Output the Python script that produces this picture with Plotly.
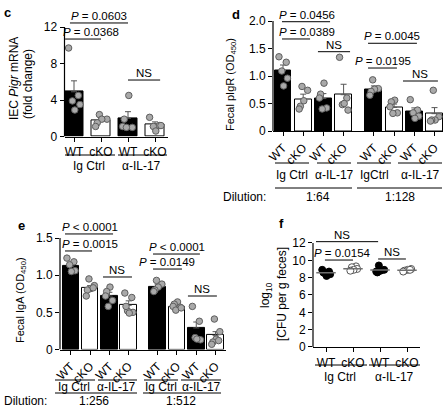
import plotly.graph_objects as go

W, H = 443, 413
FONT = "Liberation Sans, Arial, Helvetica, sans-serif"

# ------------------------------------------------------------------ data
genotypes = ["WT", "cKO", "WT", "cKO"]
genotypes8 = genotypes + genotypes
treat_labels = ["Ig Ctrl", "α-IL-17"]

# panel c : IEC Pigr mRNA (fold change)
c_mean = [4.9, 1.78, 2.0, 1.3]
c_sem = [1.2, 0.22, 0.72, 0.3]
c_points = [
    [9.7, 4.5, 3.9, 3.5, 2.9],
    [2.4, 1.9, 1.9, 1.5, 1.1],
    [4.5, 1.9, 1.1, 1.0, 1.0],
    [2.1, 1.2, 1.1, 1.2, 0.6],
]

# panel d : fecal pIgR (OD450), dilution 1:64 then 1:128
d_mean = [1.10, 0.58, 0.59, 0.66, 0.76, 0.43, 0.35, 0.315]
d_sem = [0.10, 0.09, 0.09, 0.19, 0.06, 0.06, 0.07, 0.11]
d_points = [
    [1.35, 1.25, 1.09, 0.96, 0.82],
    [0.81, 0.74, 0.55, 0.45, 0.40],
    [0.87, 0.67, 0.60, 0.42, 0.40],
    [1.34, 0.60, 0.48, 0.38, 0.50],
    [0.93, 0.77, 0.76, 0.72, 0.65],
    [0.56, 0.53, 0.44, 0.33, 0.32],
    [0.57, 0.38, 0.33, 0.27, 0.23],
    [0.74, 0.26, 0.20, 0.20, 0.18],
]

# panel e : fecal IgA (OD450), dilution 1:256 then 1:512
e_mean = [1.12, 0.83, 0.72, 0.595, 0.84, 0.58, 0.29, 0.19]
e_sem = [0.05, 0.03, 0.05, 0.06, 0.03, 0.02, 0.08, 0.05]
e_points = [
    [1.23, 1.18, 1.14, 1.06, 1.05],
    [0.95, 0.86, 0.82, 0.80, 0.72, 0.83],
    [0.84, 0.78, 0.72, 0.66, 0.58],
    [0.76, 0.70, 0.52, 0.50, 0.49, 0.58],
    [0.93, 0.88, 0.84, 0.80, 0.78],
    [0.64, 0.61, 0.58, 0.57, 0.53, 0.56],
    [0.58, 0.38, 0.16, 0.13, 0.14],
    [0.41, 0.24, 0.14, 0.10, 0.07, 0.12],
]

# panel f : log10 CFU per g feces
f_mean = [8.55, 9.02, 8.88, 8.86]
f_points = [
    [8.9, 8.7, 8.5, 8.4, 8.2, 8.6],
    [9.3, 9.2, 9.0, 8.9, 8.8],
    [9.4, 8.9, 8.8, 8.6, 8.7],
    [9.0, 8.9, 8.8, 8.7, 8.9],
]

# y tick labels
c_yticks = [0, 4, 8, 12]
d_yticks = [0, 0.5, 1.0, 1.5, 2.0]
d_yticktext = ["0", "0.5", "1.0", "1.5", "2.0"]
e_yticks = [0, 0.5, 1.0, 1.5]
e_yticktext = ["0", "0.5", "1.0", "1.5"]
f_yticks = [0, 2, 4, 6, 8, 10, 12]

# significance brackets: (x_from, x_to, height, label, label_x)
c_sig = [(-0.15, 2.0, 12.44, "<i>P</i> = 0.0603", 0.93),
         (-0.33, 1.0, 10.68, "<i>P</i> = 0.0368", 0.62),
         (2.0, 3.19, 6.19, "NS", 2.6)]
d_sig = [(-0.05, 2.33, 1.987, "<i>P</i> = 0.0456", 1.19),
         (-0.05, 1.34, 1.673, "<i>P</i> = 0.0389", 1.19),
         (1.73, 3.32, 1.442, "NS", 2.52),
         (4.21, 6.63, 1.595, "<i>P</i> = 0.0045", 5.40),
         (4.21, 5.64, 1.145, "<i>P</i> = 0.0195", 4.93),
         (5.94, 7.67, 0.909, "NS", 6.78)]
e_sig = [(-0.3, 2.19, 1.555, "<i>P</i> &lt; 0.0001", 0.99),
         (-0.3, 1.10, 1.326, "<i>P</i> = 0.0015", 0.99),
         (1.67, 3.17, 0.976, "NS", 2.39),
         (4.26, 6.69, 1.285, "<i>P</i> &lt; 0.0001", 5.48),
         (4.26, 5.76, 1.083, "<i>P</i> = 0.0149", 5.01),
         (6.07, 7.57, 0.720, "NS", 6.80)]
f_sig = [(-0.37, 1.93, 12.15, "NS", 0.59),
         (-0.04, 1.0, 10.03, "<i>P</i> = 0.0154", 0.61),
         (1.93, 2.96, 10.15, "NS", 2.44)]

# ------------------------------------------------------------------ layout helpers
pos4 = [0, 1, 2, 3]
pos8 = [0, 1, 2, 3, 4.5, 5.5, 6.5, 7.5]
JIT = [-0.2, 0.16, -0.06, 0.22, 0.03, -0.14]

BLACK = "black"
PT_FILL = "#a9a9a9"
PT_LINE = "#5e5e5e"

fig = go.Figure()


def X(px):
    return px / W


def Y(py):
    return 1 - py / H


def sfx(n):
    return "" if n == 1 else str(n)


def setup_axes(n, xl, xr, c0, sx, yb, sy, ymax, ytop, yticks, yticktext,
               xvals, xtext, angle):
    s = sfx(n)
    ytp = yb - ymax * sy
    fig.update_layout(**{
        "xaxis" + s: dict(domain=[X(xl), X(xr)],
                          range=[(xl - c0) / sx, (xr - c0) / sx],
                          anchor="y" + s, showline=True, linecolor=BLACK,
                          linewidth=1.2, ticks="outside", ticklen=4,
                          tickwidth=1.1, tickcolor=BLACK, tickvals=xvals,
                          ticktext=xtext, tickangle=angle,
                          tickfont=dict(size=12, color=BLACK),
                          showgrid=False, zeroline=False, automargin=False),
        "yaxis" + s: dict(domain=[Y(yb), Y(ytp)], range=[0, ymax],
                          anchor="x" + s, showline=False, ticks="outside",
                          ticklen=4, tickwidth=1.1, tickcolor=BLACK,
                          tickvals=yticks, ticktext=yticktext,
                          tickfont=dict(size=12, color=BLACK),
                          showgrid=False, zeroline=False, automargin=False),
    })
    fig.add_shape(type="line", xref="x" + s + " domain", x0=0, x1=0,
                  yref="y" + s, y0=0, y1=ytop,
                  line=dict(color=BLACK, width=1.2), layer="above")


def add_bars(n, pos, means, sems, points, width):
    s = sfx(n)
    fills = ["black" if i % 2 == 0 else "white" for i in range(len(means))]
    fig.add_trace(go.Bar(
        x=pos, y=means, width=width,
        marker=dict(color=fills, line=dict(color=BLACK, width=1)),
        error_y=dict(type="data", symmetric=False, array=sems,
                     arrayminus=[0] * len(sems), color="#555555",
                     thickness=1, width=3),
        xaxis="x" + s, yaxis="y" + s, hoverinfo="skip"))
    xs, ys = [], []
    for g, (p, vals) in enumerate(zip(pos, points)):
        for i, v in enumerate(vals):
            xs.append(p + JIT[(i + 2 * g) % len(JIT)])
            ys.append(v)
    fig.add_trace(go.Scatter(
        x=xs, y=ys, mode="markers",
        marker=dict(size=6.5, color=PT_FILL, line=dict(color=PT_LINE, width=1)),
        xaxis="x" + s, yaxis="y" + s, hoverinfo="skip"))


def add_sig(n, sigs):
    s = sfx(n)
    for x0, x1, yv, label, tx in sigs:
        fig.add_shape(type="line", xref="x" + s, yref="y" + s, x0=x0, x1=x1,
                      y0=yv, y1=yv, line=dict(color=BLACK, width=1))
        fig.add_annotation(xref="x" + s, yref="y" + s, x=tx, y=yv, text=label,
                           showarrow=False, yanchor="bottom", yshift=-1,
                           font=dict(size=11.5, color=BLACK))


def ptext(text, xpx, ypx, size=12, anchor="center", angle=0, bold=False):
    if bold:
        text = "<b>" + text + "</b>"
    fig.add_annotation(xref="paper", yref="paper", x=X(xpx), y=Y(ypx),
                       text=text, showarrow=False, xanchor=anchor,
                       yanchor="middle", textangle=angle,
                       font=dict(size=size, color=BLACK))


def pline(x0, x1, ypx):
    fig.add_shape(type="line", xref="paper", yref="paper", x0=X(x0), x1=X(x1),
                  y0=Y(ypx), y1=Y(ypx), line=dict(color=BLACK, width=1))


# ------------------------------------------------------------------ panel c
setup_axes(1, 64.5, 168, 74, 27, 136.5, 9.125, 13.6, 12, c_yticks,
           [str(v) for v in c_yticks], pos4, genotypes, 0)
add_bars(1, pos4, c_mean, c_sem, c_points, 0.70)
add_sig(1, c_sig)
pline(65, 115, 155)
pline(118, 167, 155)
ptext(treat_labels[0], 89, 166)
ptext(treat_labels[1], 141, 166)
ptext("IEC <i>Pigr</i> mRNA", 14, 79, size=12, angle=-90)
ptext("(fold change)", 28, 84, size=12, angle=-90)
ptext("c", 7, 13, size=13, bold=True)

# ------------------------------------------------------------------ panel d
setup_axes(2, 273, 443, 283, 20.2, 131, 55, 2.3, 2.0, d_yticks, d_yticktext,
           pos8, genotypes8, -45)
add_bars(2, pos8, d_mean, d_sem, d_points, 0.84)
add_sig(2, d_sig)
for a, b in [(275, 309), (317, 351), (357, 391), (398, 442)]:
    pline(a, b, 163)
ptext("Ig Ctrl", 292, 175)
ptext("α-IL-17", 334, 175)
ptext("IgCtrl", 374, 175)
ptext("α-IL-17", 420, 175)
pline(275, 352, 188)
pline(357, 442, 188)
ptext("Dilution:", 221, 197, anchor="left")
ptext("1:64", 318, 197)
ptext("1:128", 400, 197)
ptext("Fecal pIgR (OD<sub>450</sub>)", 231, 85, size=11, angle=-90)
ptext("d", 236, 14, size=13, bold=True)

# ------------------------------------------------------------------ panel e
setup_axes(3, 60, 225.5, 70.8, 19.3, 349.5, 74.3, 1.65, 1.5, e_yticks,
           e_yticktext, pos8, genotypes8, -45)
add_bars(3, pos8, e_mean, e_sem, e_points, 0.86)
add_sig(3, e_sig)
for a, b in [(55, 95), (98, 137), (144, 178), (181, 221)]:
    pline(a, b, 380)
ptext("Ig Ctrl", 74, 387)
ptext("α-IL-17", 116, 387)
ptext("Ig Ctrl", 161, 387)
ptext("α-IL-17", 201, 387)
pline(55, 137, 393)
pline(143, 221, 393)
ptext("Dilution:", 2, 401, anchor="left")
ptext("1:256", 94, 401)
ptext("1:512", 181, 401)
ptext("Fecal IgA (OD<sub>450</sub>)", 21, 300, size=11, angle=-90)
ptext("e", 21, 225, size=13, bold=True)

# ------------------------------------------------------------------ panel f
setup_axes(4, 313, 420, 326, 27, 347, 8.67, 12.9, 12, f_yticks,
           [str(v) for v in f_yticks], pos4, genotypes, 0)
for g, (p, vals) in enumerate(zip(pos4, f_points)):
    wt = g % 2 == 0
    fig.add_trace(go.Scatter(
        x=[p + 0.7 * JIT[(i + g) % len(JIT)] for i in range(len(vals))],
        y=vals, mode="markers",
        marker=dict(size=7, color="black" if wt else "white",
                    line=dict(color="black" if wt else "#555555", width=1)),
        xaxis="x4", yaxis="y4", hoverinfo="skip"))
    fig.add_trace(go.Scatter(
        x=[p - 0.36, p + 0.36], y=[f_mean[g], f_mean[g]], mode="lines",
        line=dict(color="#6f6f6f", width=1.5),
        xaxis="x4", yaxis="y4", hoverinfo="skip"))
add_sig(4, f_sig)
pline(315, 367, 365)
pline(369, 420, 365)
ptext("Ig Ctrl", 340, 377)
ptext("α-IL-17", 394, 377)
ptext("log<sub>10</sub>", 266, 295, size=12, angle=-90)
ptext("[CFU per g feces]", 282, 294, size=12, angle=-90)
ptext("f", 281, 223, size=13, bold=True)

fig.update_layout(width=W, height=H, margin=dict(l=0, r=0, t=0, b=0),
                  paper_bgcolor="white", plot_bgcolor="white",
                  showlegend=False, bargap=0,
                  font=dict(family=FONT, size=12, color=BLACK))

fig.write_html("out.html", config={"displayModeBar": False},
               post_script="document.body.style.margin='0';"
                           "document.body.style.overflow='hidden';")
